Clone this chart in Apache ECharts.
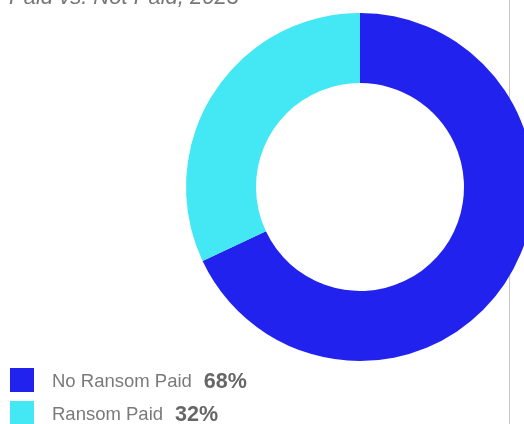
<!DOCTYPE html>
<html>
<head>
<meta charset="utf-8">
<script src="https://cdn.jsdelivr.net/npm/echarts@6/dist/echarts.min.js"></script>
<style>
  html, body { margin: 0; padding: 0; background: #fff; }
  #chart { width: 524px; height: 424px; }
</style>
</head>
<body>
<div id="chart"></div>
<script>
// Ransom payment share
const categories = ['No Ransom Paid', 'Ransom Paid'];
const shares = [68, 32];
const colors = ['#2222EE', '#44E8F4'];
const titleText = 'Paid vs. Not Paid, 2023';

const FONT = 'Liberation Sans';
const chart = echarts.init(document.getElementById('chart'), null, { renderer: 'canvas' });

const pieData = categories.map((name, i) => ({
  name: name,
  value: shares[i],
  itemStyle: { color: colors[i] }
}));

// one legend block per category, stacked in rows
const legendRowTop = [368, 401];
const legends = categories.map((name, i) => ({
  orient: 'vertical',
  left: 10,
  top: legendRowTop[i],
  padding: 0,
  itemWidth: 24,
  itemHeight: 24,
  icon: 'rect',
  selectedMode: false,
  data: [name],
  formatter: function (n) {
    const k = categories.indexOf(n);
    return '{n|' + n + '}{v|' + shares[k] + '%}';
  },
  textStyle: {
    rich: {
      n: { fontFamily: FONT, fontSize: 18.5, color: '#7a7a7a', padding: [4, 0, 0, 13] },
      v: { fontFamily: FONT, fontSize: 21.5, fontWeight: 'bold', color: '#666', padding: [4, 0, 0, 12] }
    }
  }
}));

chart.setOption({
  animation: false,
  backgroundColor: '#fff',
  title: {
    text: titleText,
    left: 4,
    top: -18,
    textStyle: {
      fontFamily: FONT,
      fontStyle: 'italic',
      fontWeight: 'normal',
      fontSize: 22,
      color: '#777'
    }
  },
  graphic: [{
    type: 'line',
    z: -1,
    shape: { x1: 509.5, y1: 0, x2: 509.5, y2: 424 },
    style: { stroke: '#c8c8c8', lineWidth: 1 }
  }],
  legend: legends,
  series: [{
    type: 'pie',
    center: [360, 187],
    radius: [104, 174],
    startAngle: 90,
    clockwise: true,
    label: { show: false },
    labelLine: { show: false },
    silent: true,
    itemStyle: { borderWidth: 0 },
    data: pieData
  }]
});
</script>
</body>
</html>
